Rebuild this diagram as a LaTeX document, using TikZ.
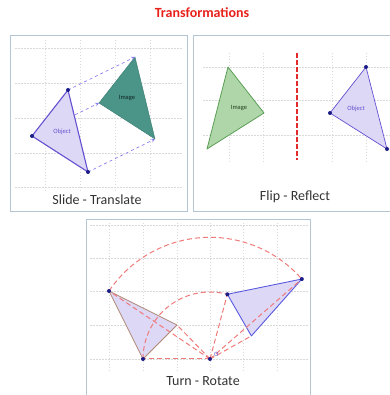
\documentclass[tikz,border=0pt]{standalone}
\usepackage{fontspec}
\setmainfont{Carlito}
\usetikzlibrary{positioning,calc}

\definecolor{titlered}{HTML}{E8201A}
\definecolor{panelblue}{HTML}{B4C6D4}
\definecolor{dotblue}{HTML}{1C1C86}
\definecolor{objfill}{HTML}{DCD8F6}
\definecolor{objline}{HTML}{6650D0}
\definecolor{slideblue}{HTML}{8A80F0}
\definecolor{tealfill}{HTML}{4A9488}
\definecolor{tealline}{HTML}{3A7A70}
\definecolor{greenfill}{HTML}{AFD6A8}
\definecolor{greenline}{HTML}{5A9E55}
\definecolor{mirrorred}{HTML}{E22A2A}
\definecolor{arcred}{HTML}{F07A7A}
\definecolor{turnline}{HTML}{B08878}
\definecolor{turnblue}{HTML}{5A5AE0}

\begin{document}
\begin{tikzpicture}[x=1pt,y=1pt,
    panel/.style={draw=panelblue, line width=1pt},
    gridline/.style={draw=gray!30, dash pattern=on 1.5pt off 1.5pt, line width=0.6pt},
    dot/.style={circle, fill=dotblue, inner sep=0pt, minimum size=4pt},
    objtri/.style={draw=objline, fill=objfill, line width=1.1pt, line join=round},
    caption/.style={font=\fontsize{14}{16}\selectfont, text=black!80},
    tag/.style={font=\fontsize{6.5}{7}\selectfont},
    trail/.style={draw=slideblue, dashed, -stealth, line width=0.7pt},
    turnarc/.style={draw=arcred, dash pattern=on 5pt off 3pt, line width=1pt}
]
\useasboundingbox (0,0) rectangle (389,395);
\node[font=\fontsize{14}{16}\selectfont\bfseries, text=titlered] (title) at (202,382) {Transformations};

% Slide - Translate
\draw[panel] (10,183) rectangle (187,359);
\foreach \y in {347,312,277,242,208} \draw[gridline] (15,\y) -- (182,\y);
\foreach \x in {45,80,115,150} \draw[gridline] (\x,355) -- (\x,202);
\coordinate (sa) at (68,305);
\coordinate (sb) at (32,259);
\coordinate (sc) at (88,223);
\path (sa) ++(67,33) coordinate (ia);
\path (sb) ++(67,33) coordinate (ib);
\path (sc) ++(67,33) coordinate (ic);
\draw[draw=tealline, fill=tealfill, line join=round] (ia) -- (ib) -- (ic) -- cycle;
\node[tag, text=black!70!tealline] (imglabel) at (127,297) {Image};
\foreach \v in {a,b,c} \draw[trail] (s\v) -- (i\v);
\draw[objtri] (sa) -- (sb) -- (sc) -- cycle;
\node[tag, text=objline] (objlabel) at (62,263) {Object};
\foreach \v in {a,b,c} \node[dot] (sdot\v) at (s\v) {};
\node[caption] (slidecap) at (97,195) {Slide - Translate};

% Flip - Reflect
\draw[panel] (193,183) rectangle (400,359);
\foreach \y in {328,295,260} \draw[gridline] (203,\y) -- (392,\y);
\foreach \x in {229,263,332,366} \draw[gridline] (\x,342) -- (\x,232);
\coordinate (mtop) at (297,342);
\coordinate (mbot) at (297,235);
\draw[mirrorred, dash pattern=on 5pt off 2pt, line width=1.4pt] (mtop) -- (mbot);
\coordinate (fa) at (366,328);
\coordinate (fb) at (330,282);
\coordinate (fc) at (387,246);
\coordinate (ga) at (228,328);
\coordinate (gb) at (264,282);
\coordinate (gc) at (207,246);
\draw[draw=greenline, fill=greenfill, line width=0.8pt, line join=round] (ga) -- (gb) -- (gc) -- cycle;
\node[tag, text=black!60!greenline] (flipimg) at (239,287) {Image};
\draw[objtri, line width=0.7pt] (fa) -- (fb) -- (fc) -- cycle;
\node[tag, text=objline] (flipobj) at (356,286) {Object};
\foreach \v in {a,b,c} \node[dot] (fdot\v) at (f\v) {};
\node[caption] (flipcap) at (295,198) {Flip - Reflect};

% Turn - Rotate
\draw[panel] (86,175) rectangle (310,-5);
\foreach \y in {170,137,104,70,36} \draw[gridline] (90,\y) -- (308,\y);
\foreach \x in {109,143,177,210,243,277} \draw[gridline] (\x,172) -- (\x,23);
\coordinate (O) at (210,36);
\coordinate (tp) at (109,104);
\coordinate (tq) at (177,70);
\coordinate (tr) at (143,36);
\coordinate (up) at ($(O)!1!-105:(tp)$);
\coordinate (uq) at ($(O)!1!-105:(tq)$);
\coordinate (ur) at ($(O)!1!-105:(tr)$);
\draw[draw=turnline, fill=objfill, line width=0.8pt, line join=round] (tp) -- (tq) -- (tr) -- cycle;
\draw[draw=turnblue, fill=objfill, line width=0.9pt, line join=round] (up) -- (uq) -- (ur) -- cycle;
\foreach \v in {p,q,r} {
  \draw[turnarc] (O) -- (t\v);
  \draw[turnarc] (O) -- (u\v);
}
\draw[turnarc] (tp) arc[start angle=146, delta angle=-105, radius=121.8];
\draw[turnarc] (tr) arc[start angle=180, delta angle=-105, radius=67];
\foreach \n in {tp,tr,O,up,ur} \node[dot] (dot\n) at (\n) {};
\node[tag, text=turnblue, right=0.5pt of O, yshift=5pt] (olabel) {O};
\node[caption] (turncap) at (203,14) {Turn - Rotate};
\end{tikzpicture}
\end{document}
